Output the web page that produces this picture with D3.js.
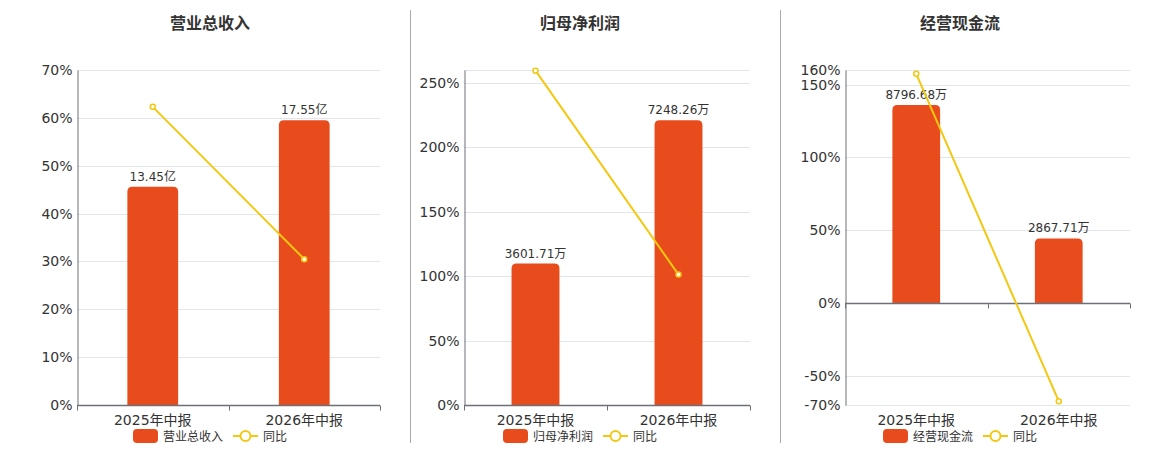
<!DOCTYPE html>
<html>
<head>
<meta charset="utf-8">
<script src="https://cdn.jsdelivr.net/npm/d3@7"></script>
<style>
  body { margin: 0; background: #fff; }
  text { font-family: 'DejaVu Sans', 'Noto Sans CJK SC', sans-serif; }
</style>
</head>
<body>
<div id="chart"></div>
<script>
// Data
const categories = ['2025年中报', '2026年中报'];
const titles = ['营业总收入', '归母净利润', '经营现金流'];
const units = ['亿', '万', '万'];

const revenueValues = [13.45, 17.55];
const revenueYoy = [62.3, 30.48];
const revenueDomain = [0, 70];
const revenueTicks = [0, 10, 20, 30, 40, 50, 60, 70];

const profitValues = [3601.71, 7248.26];
const profitYoy = [259.5, 101.24];
const profitDomain = [0, 260];
const profitTicks = [0, 50, 100, 150, 200, 250];

const cashValues = [8796.68, 2867.71];
const cashYoy = [157.4, -67.4];
const cashDomain = [-70, 160];
const cashTicks = [-70, -50, 0, 50, 100, 150, 160];

const yoyName = '同比';

function draw() {
  // Dimensions
  const dimensions = {
    width: 1160,
    height: 450,
    top: 70,
    bottom: 405,
  };

  const barColor = '#e84c1c';
  const lineColor = '#f2c811';
  const textColor = '#333';
  const axisColor = '#6e7079';
  const gridColor = '#e0e6f1';

  const panels = [
    { title: titles[0], unit: units[0], values: revenueValues, yoy: revenueYoy, domain: revenueDomain, ticks: revenueTicks, cx: 210, left: 77 },
    { title: titles[1], unit: units[1], values: profitValues, yoy: profitYoy, domain: profitDomain, ticks: profitTicks, cx: 580, left: 464 },
    { title: titles[2], unit: units[2], values: cashValues, yoy: cashYoy, domain: cashDomain, ticks: cashTicks, cx: 960, left: 845 },
  ];

  const svg = d3
    .select('#chart')
    .append('svg')
    .attr('width', dimensions.width)
    .attr('height', dimensions.height);

  // separators
  svg
    .selectAll('line.sep')
    .data([410, 780])
    .join('line')
    .attr('x1', (d) => d + 0.5)
    .attr('x2', (d) => d + 0.5)
    .attr('y1', 10)
    .attr('y2', 443)
    .attr('stroke', '#aaa');

  panels.forEach((p) => {
    const right = p.cx + 170;
    const g = svg.append('g');

    // Scales
    const xScale = d3.scaleBand().domain(categories).range([p.left, right]);
    const yScale = d3.scaleLinear().domain(p.domain).range([dimensions.bottom, dimensions.top]);
    const barScale = d3
      .scaleLinear()
      .domain([0, d3.max(p.values) / 0.85])
      .range([yScale(0), dimensions.top]);
    const center = (d) => xScale(d) + xScale.bandwidth() / 2;
    const barWidth = xScale.bandwidth() * 0.335;

    // Title
    g.append('text')
      .attr('x', p.cx)
      .attr('y', 29)
      .attr('text-anchor', 'middle')
      .attr('font-size', 16)
      .attr('font-weight', 'bold')
      .attr('fill', textColor)
      .text(p.title);

    // Grid
    const gridValues = Array.from(new Set([...p.ticks, ...p.domain]));
    g.selectAll('line.grid')
      .data(gridValues)
      .join('line')
      .attr('x1', p.left)
      .attr('x2', right)
      .attr('y1', (d) => Math.round(yScale(d)) + 0.5)
      .attr('y2', (d) => Math.round(yScale(d)) + 0.5)
      .attr('stroke', gridColor);

    // Y axis
    const yAxis = d3
      .axisLeft(yScale)
      .tickValues(p.ticks)
      .tickSize(0)
      .tickPadding(5)
      .tickFormat((d) => d + '%');
    const yAxisGroup = g
      .append('g')
      .attr('transform', `translate(${p.left + 0.5}, 0)`)
      .call(yAxis);
    yAxisGroup.select('.domain').attr('stroke', axisColor);
    yAxisGroup
      .selectAll('text')
      .attr('font-size', 14)
      .attr('fill', textColor)
      .style('font-family', "'DejaVu Sans', sans-serif");

    // Bars
    const r = 5;
    g.selectAll('path.bar')
      .data(p.values)
      .join('path')
      .attr('fill', barColor)
      .attr('d', (d, i) => {
        const x0 = center(categories[i]) - barWidth / 2;
        const x1 = x0 + barWidth;
        const y0 = barScale(0);
        const y1 = barScale(d);
        return `M${x0},${y0}V${y1 + r}Q${x0},${y1} ${x0 + r},${y1}H${x1 - r}Q${x1},${y1} ${x1},${y1 + r}V${y0}Z`;
      });

    // Bar labels
    g.selectAll('text.bar-label')
      .data(p.values)
      .join('text')
      .attr('x', (d, i) => center(categories[i]))
      .attr('y', (d) => barScale(d) - 6)
      .attr('text-anchor', 'middle')
      .attr('font-size', 12)
      .attr('fill', textColor)
      .text((d) => d3.format('.2f')(d) + p.unit);

    // X axis
    const x0Line = Math.round(yScale(0)) + 0.5;
    g.append('line')
      .attr('x1', p.left)
      .attr('x2', right)
      .attr('y1', x0Line)
      .attr('y2', x0Line)
      .attr('stroke', axisColor)
      .attr('stroke-width', 1.5);
    const boundaries = [p.left, ...categories.map((d) => xScale(d) + xScale.bandwidth())];
    g.selectAll('line.xtick')
      .data(boundaries)
      .join('line')
      .attr('x1', (d) => Math.round(d) + 0.5)
      .attr('x2', (d) => Math.round(d) + 0.5)
      .attr('y1', x0Line)
      .attr('y2', x0Line + 5)
      .attr('stroke', axisColor);
    g.selectAll('text.xlabel')
      .data(categories)
      .join('text')
      .attr('x', center)
      .attr('y', 425)
      .attr('text-anchor', 'middle')
      .attr('font-size', 14)
      .attr('fill', textColor)
      .text((d) => d);

    // Line
    const line = d3
      .line()
      .x((d, i) => center(categories[i]))
      .y((d) => yScale(d));
    g.append('path')
      .datum(p.yoy)
      .attr('d', line)
      .attr('fill', 'none')
      .attr('stroke', lineColor)
      .attr('stroke-width', 2);
    g.selectAll('circle.pt')
      .data(p.yoy)
      .join('circle')
      .attr('cx', (d, i) => center(categories[i]))
      .attr('cy', (d) => yScale(d))
      .attr('r', 2.5)
      .attr('fill', '#fff')
      .attr('stroke', lineColor)
      .attr('stroke-width', 1.5);

    // Legend
    const legendWidth = 25 + 5 + p.title.length * 12 + 10 + 25 + 5 + yoyName.length * 12;
    const lx = p.cx - legendWidth / 2;
    const ly = 436;
    const legend = g.append('g').attr('transform', `translate(${lx}, ${ly})`);
    legend
      .append('rect')
      .attr('x', 0)
      .attr('y', -7)
      .attr('width', 25)
      .attr('height', 14)
      .attr('rx', 4)
      .attr('fill', barColor);
    legend
      .append('text')
      .attr('x', 30)
      .attr('y', 4.5)
      .attr('font-size', 12)
      .attr('fill', textColor)
      .text(p.title);
    const l2 = 30 + p.title.length * 12 + 10;
    legend
      .append('line')
      .attr('x1', l2)
      .attr('x2', l2 + 25)
      .attr('y1', 0)
      .attr('y2', 0)
      .attr('stroke', lineColor)
      .attr('stroke-width', 2);
    legend
      .append('circle')
      .attr('cx', l2 + 12.5)
      .attr('cy', 0)
      .attr('r', 5)
      .attr('fill', '#fff')
      .attr('stroke', lineColor)
      .attr('stroke-width', 2);
    legend
      .append('text')
      .attr('x', l2 + 30)
      .attr('y', 4.5)
      .attr('font-size', 12)
      .attr('fill', textColor)
      .text(yoyName);
  });
}

draw();
</script>
</body>
</html>
